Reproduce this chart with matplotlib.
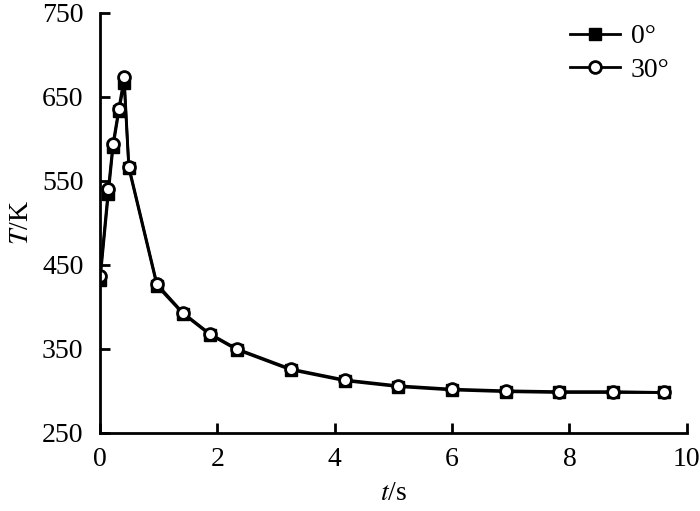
import matplotlib.pyplot as plt

plt.rcParams["font.family"] = ["Liberation Serif", "DejaVu Serif"]
plt.rcParams["mathtext.fontset"] = "stix"

# time points (s)
t = [0, 0.14, 0.22, 0.32, 0.41, 0.49, 0.97, 1.41, 1.87, 2.33, 3.25,
     4.17, 5.08, 6.0, 6.92, 7.82, 8.74, 9.61]
# temperature for 0 deg and 30 deg (K)
T_0 = [432, 534, 590, 633, 667, 565, 425, 392, 367, 349, 325,
       312, 305, 301, 299, 298, 298, 298]
T_30 = [437, 540, 594, 636, 673, 567, 427, 393, 368, 350, 326,
        313, 306, 302, 300, 299, 299, 298]

fig = plt.figure(figsize=(7, 5.11), dpi=100)
ax = fig.add_axes([0.143, 0.153, 0.838, 0.822])

ax.plot(t, T_0, color="black", lw=2, marker="s", ms=8,
        mfc="black", mec="black", label="0°")
ax.plot(t, T_30, color="black", lw=2, marker="o", ms=8.5,
        mfc="white", mec="black", mew=2, label="30°")

ax.set_xlim(0, 10)
ax.set_ylim(250, 750)
ax.set_xticks([0, 2, 4, 6, 8, 10])
ax.set_yticks([250, 350, 450, 550, 650, 750])
ax.tick_params(direction="in", length=7, width=2, labelsize=20)
ax.tick_params(axis="x", pad=10)
ax.tick_params(axis="y", pad=12)
for s in ["top", "right"]:
    ax.spines[s].set_visible(False)
for s in ["left", "bottom"]:
    ax.spines[s].set_linewidth(2)

ax.set_xlabel("$t$/s", fontsize=20, labelpad=7)
ax.set_ylabel("$T$/K", fontsize=20, labelpad=6)

ax.legend(loc="upper right", frameon=False, fontsize=20, handlelength=1.8,
          borderaxespad=0.0, handletextpad=0.4, labelspacing=0.3,
          bbox_to_anchor=(0.99, 1.0))

fig.savefig("out.png", dpi=100)
